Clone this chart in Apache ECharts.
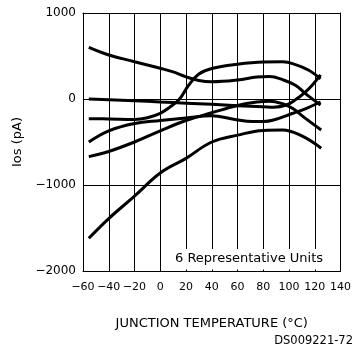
<!DOCTYPE html>
<html>
<head>
<meta charset="utf-8">
<script src="https://cdn.jsdelivr.net/npm/echarts@6/dist/echarts.min.js"></script>
<style>
  html, body { margin: 0; padding: 0; background: #fff; }
  #chart { width: 354px; height: 352px; }
</style>
</head>
<body>
<div id="chart"></div>
<script>
// junction temperature (°C) and Ios (pA), one pair per unit
const tempA = [-55.5, -40, -20, 0, 10, 20, 30, 40, 60, 75, 85, 95, 105, 113, 124.5];
const iosA  = [600, 512, 434, 357, 315, 258, 215, 200, 220, 255, 262, 225, 160, 60, -70];

const tempB = [-55.5, -40, -20, -10, 0, 7, 15, 22, 30, 40, 60, 80, 95, 105, 115, 124.5];
const iosB  = [-230, -232, -238, -218, -166, -100, 0, 160, 290, 355, 405, 430, 432, 400, 337, 235];

const tempC = [-55.5, -40, -20, 0, 20, 40, 60, 80, 88, 98, 105, 112, 118, 124.5];
const iosC  = [0, -8, -20, -35, -48, -62, -78, -90, -95, -70, -10, 70, 160, 280];

const tempP = [-55.5, -40, -20, 0, 20, 40, 60, 75, 85, 95, 103, 111, 125];
const iosP  = [-670, -610, -500, -370, -250, -160, -75, -35, -25, -55, -110, -205, -360];

const tempQ = [-55.5, -40, -20, 0, 20, 40, 57, 72, 80, 88, 103, 114, 124.5];
const iosQ  = [-500, -370, -285, -250, -220, -195, -235, -262, -262, -244, -166, -105, -35];

const tempG = [-55.5, -40, -20, 0, 20, 40, 60, 80, 95, 110, 125];
const iosG  = [-1620, -1390, -1130, -860, -690, -500, -420, -365, -360, -430, -573];

const units = [
    [tempA, iosA], [tempB, iosB], [tempC, iosC],
    [tempP, iosP], [tempQ, iosQ], [tempG, iosG]
];

const font = 'DejaVu Sans';
const minus = v => String(v).replace('-', '\u2212');
const black = { color: '#000', width: 1 };

const chart = echarts.init(document.getElementById('chart'));
chart.setOption({
    animation: false,
    textStyle: { fontFamily: font, color: '#000' },
    grid: { left: 83, top: 13, right: 12, bottom: 81, containLabel: false },
    xAxis: [
        {
            type: 'value',
            min: -60, max: 140, interval: 20,
            name: 'JUNCTION TEMPERATURE (°C)',
            nameLocation: 'middle',
            nameGap: 46,
            nameTextStyle: { fontFamily: font, fontSize: 13, color: '#000' },
            axisLine: { show: true, onZero: false, lineStyle: black },
            axisTick: { show: false },
            axisLabel: { fontFamily: font, fontSize: 11, color: '#000', margin: 11, formatter: minus },
            splitLine: { show: true, lineStyle: black }
        },
        {
            // top edge of the frame
            type: 'value', position: 'top',
            min: -60, max: 140, interval: 20,
            axisLine: { show: true, onZero: false, lineStyle: black },
            axisTick: { show: false }, axisLabel: { show: false }, splitLine: { show: false }
        }
    ],
    yAxis: [
        {
            type: 'value',
            min: -2000, max: 1000, interval: 1000,
            name: 'Ios (pA)',
            nameLocation: 'middle',
            nameGap: 58,
            nameTextStyle: { fontFamily: font, fontSize: 13, color: '#000' },
            axisLine: { show: true, onZero: false, lineStyle: black },
            axisTick: { show: false },
            axisLabel: { fontFamily: font, fontSize: 12, color: '#000', margin: 7, formatter: minus },
            splitLine: { show: true, lineStyle: black }
        },
        {
            // right edge of the frame
            type: 'value', position: 'right',
            min: -2000, max: 1000, interval: 1000,
            axisLine: { show: true, onZero: false, lineStyle: black },
            axisTick: { show: false }, axisLabel: { show: false }, splitLine: { show: false }
        }
    ],
    graphic: [
        {
            // white box behind the note, hides the grid lines under it
            type: 'rect', z: 1,
            shape: { x: 172, y: 249, width: 168, height: 20.5 },
            style: { fill: '#fff' }
        },
        {
            type: 'text', z: 101, left: 175, top: 252,
            style: { text: '6 Representative Units', fontFamily: font, fontSize: 13, fill: '#000' }
        },
        {
            type: 'text', z: 101, right: 1, top: 335,
            style: { text: 'DS009221-72', fontFamily: font, fontSize: 11.5, fill: '#000' }
        }
    ],
    series: units.map(([t, v]) => ({
        type: 'line',
        data: t.map((x, i) => [x, v[i]]),
        smooth: 0.4,
        showSymbol: false,
        lineStyle: { color: '#000', width: 3 }
    }))
});
</script>
</body>
</html>
